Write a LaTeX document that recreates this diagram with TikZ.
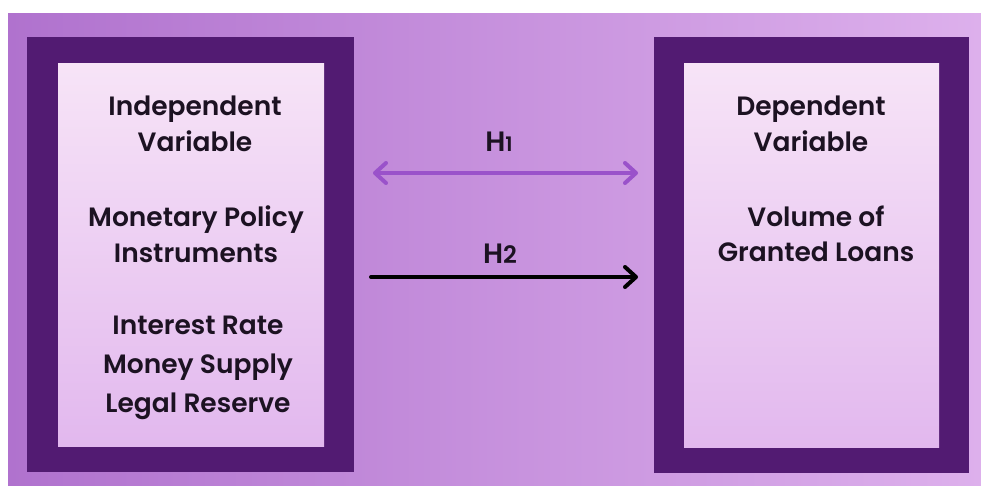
\documentclass[tikz,border=0pt]{standalone}
\usepackage{fontspec}
\setmainfont{Poppins SemiBold}
\usetikzlibrary{arrows.meta}
\definecolor{bgL}{HTML}{B072CE}
\definecolor{bgR}{HTML}{DDB0EC}
\definecolor{frame}{HTML}{521B72}
\definecolor{inTop}{HTML}{F7E4F7}
\definecolor{inBot}{HTML}{E2B8EE}
\definecolor{hone}{HTML}{9A52CA}
\definecolor{txt}{HTML}{1C1222}
\tikzset{
  outerbox/.style={fill=frame, draw=none, minimum width=#1, inner sep=0pt},
  innerbox/.style={top color=inTop, bottom color=inBot, draw=none, inner sep=0pt},
  lbl/.style={text=txt, align=center, inner sep=0pt, font=\fontsize{26.5}{35.5}\selectfont},
  hlbl/.style={text=txt, inner sep=0pt, font=\fontsize{28}{30}\selectfont},
  barb/.tip={Straight Barb[length=11pt,width=20pt,line width=4pt,line cap=round,line join=round]},
  hyp/.style={line width=4pt, line cap=round}
}
\begin{document}
\begin{tikzpicture}[x=1pt,y=-1pt]
\useasboundingbox (0,0) rectangle (981,485);
\fill[white] (0,0) rectangle (981,485);
\shade[left color=bgL, right color=bgR] (8,13) rectangle (981,485);
% left frame
\node[outerbox=327pt, minimum height=435pt] (Lout) at (190.5,254.5) {};
\node[innerbox, minimum width=266pt, minimum height=383pt] (Lin) at (191,254.5) {};
% right frame
\node[outerbox=315pt, minimum height=436pt] (Rout) at (811.5,255) {};
\node[innerbox, minimum width=255pt, minimum height=384pt] (Rin) at (811.5,255) {};
% texts left
\node[lbl] (t1) at (195,124) {Independent\\Variable};
\node[lbl] (t2) at (196,234) {Monetary Policy\\Instruments};
\node[lbl, font=\fontsize{26.5}{39}\selectfont] (t3) at (198,368) {Interest Rate\\Money Supply\\Legal Reserve};
% texts right
\node[lbl] (t4) at (811,124) {Dependent\\Variable};
\node[lbl] (t5) at (816,234) {Volume of\\Granted Loans};
% hypotheses
\coordinate (h1s) at (373,173);
\coordinate (h1e) at (638,173);
\coordinate (h2s) at (371,277);
\coordinate (h2e) at (638,277);
\draw[hyp, draw=hone, {barb}-{barb}] (h1s) -- (h1e);
\draw[hyp, draw=black, -{barb}] (h2s) -- (h2e);
\node[hlbl] (H1) at (499,142) {H{\fontsize{20}{20}\selectfont 1}};
\node[hlbl] (H2) at (500,254) {H{\fontsize{24}{24}\selectfont 2}};
\end{tikzpicture}
\end{document}
